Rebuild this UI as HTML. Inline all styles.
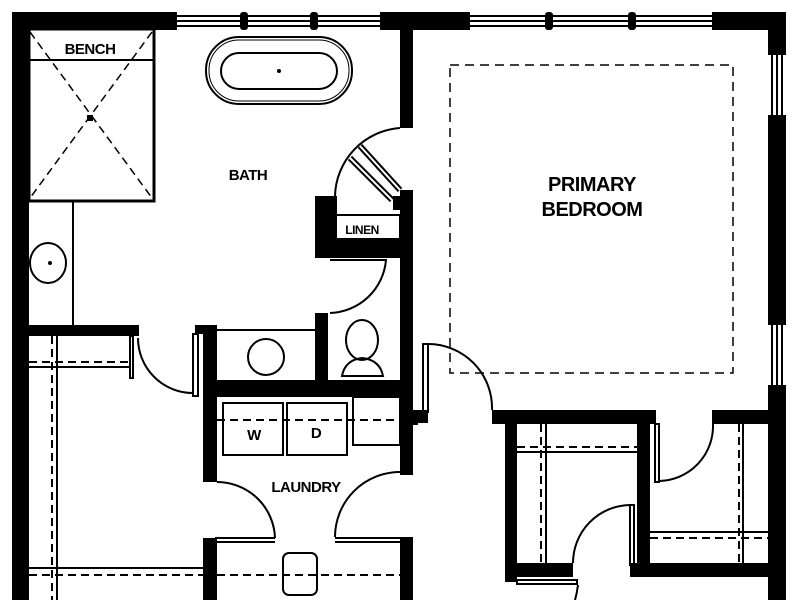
<!DOCTYPE html>
<html><head><meta charset="utf-8"><style>
html,body{margin:0;padding:0;background:#fff;}
svg{display:block;}
text{font-family:"Liberation Sans",sans-serif;fill:#000;font-weight:bold;letter-spacing:-0.5px;}
</style></head><body>
<svg width="800" height="600" viewBox="0 0 800 600" xmlns="http://www.w3.org/2000/svg">
<rect width="800" height="600" fill="#fff"/>
<g fill="#000">
<rect x="12" y="12" width="165" height="18"/>
<rect x="380" y="12" width="90" height="18"/>
<rect x="712" y="12" width="74" height="18"/>
<rect x="12" y="12" width="17" height="588"/>
<rect x="768" y="12" width="18" height="43"/>
<rect x="768" y="115" width="18" height="210"/>
<rect x="768" y="385" width="18" height="215"/>
<rect x="400" y="12" width="13" height="116"/>
<rect x="400" y="190" width="13" height="190"/>
<rect x="400" y="380" width="13" height="95"/>
<rect x="400" y="537" width="13" height="63"/>
<rect x="315" y="196" width="22" height="62"/>
<rect x="315" y="240" width="98" height="18"/>
<rect x="393" y="196" width="20" height="14"/>
<rect x="29" y="325" width="110" height="11"/>
<rect x="195" y="325" width="22" height="9"/>
<rect x="203" y="325" width="14" height="157"/>
<rect x="315" y="313" width="13" height="70"/>
<rect x="203" y="380" width="210" height="17"/>
<rect x="410" y="410" width="8" height="15"/>
<rect x="203" y="538" width="14" height="62"/>
<rect x="412" y="410" width="16" height="13"/>
<rect x="492" y="410" width="164" height="14"/>
<rect x="505" y="410" width="12" height="172"/>
<rect x="637" y="410" width="13" height="160"/>
<rect x="505" y="563" width="68" height="14"/>
<rect x="630" y="563" width="140" height="14"/>
<rect x="712" y="410" width="58" height="14"/>
</g>
<g fill="none" stroke="#000" stroke-width="2">
<line x1="177" y1="16" x2="380" y2="16"/><line x1="177" y1="21" x2="380" y2="21"/><line x1="177" y1="26" x2="380" y2="26"/>
<line x1="470" y1="16" x2="712" y2="16"/><line x1="470" y1="21" x2="712" y2="21"/><line x1="470" y1="26" x2="712" y2="26"/>
<line x1="772" y1="55" x2="772" y2="115"/><line x1="777" y1="55" x2="777" y2="115"/><line x1="782" y1="55" x2="782" y2="115"/>
<line x1="772" y1="325" x2="772" y2="385"/><line x1="777" y1="325" x2="777" y2="385"/><line x1="782" y1="325" x2="782" y2="385"/>
</g>
<g fill="#000">
<rect x="240" y="12" width="8" height="18" rx="3"/><rect x="310" y="12" width="8" height="18" rx="3"/>
<rect x="545" y="12" width="8" height="18" rx="3"/><rect x="628" y="12" width="8" height="18" rx="3"/>
</g>
<g fill="none" stroke="#000" stroke-width="2">
<rect x="29" y="29" width="125" height="172" stroke-width="3"/>
<line x1="29" y1="60" x2="154" y2="60"/>
<line x1="73" y1="201" x2="73" y2="325"/>
<g stroke-dasharray="8,5" stroke-width="1.5"><line x1="30" y1="32" x2="152" y2="198"/><line x1="152" y1="32" x2="30" y2="198"/></g>
<rect x="206" y="37" width="146" height="67" rx="33"/>
<rect x="209" y="40" width="140" height="61" rx="30" stroke-width="1"/>
<rect x="221" y="53" width="116" height="36" rx="18"/>
<ellipse cx="48" cy="263" rx="18" ry="20"/>
<path d="M335 196 A70 70 0 0 1 400 128"/>
<line x1="360" y1="146" x2="400" y2="190" stroke-width="6"/>
<line x1="350" y1="158" x2="392" y2="200" stroke-width="6"/>
<line x1="360" y1="146" x2="400" y2="190" stroke="#fff" stroke-width="2"/>
<line x1="350" y1="158" x2="392" y2="200" stroke="#fff" stroke-width="2"/>
<rect x="328" y="215" width="72" height="24"/>
<path d="M330 260 L386 260 A58 58 0 0 1 330 313"/>
<path d="M138 338 A55 55 0 0 0 193 393"/>
<rect x="193" y="334" width="5" height="62"/>
<rect x="130" y="336" width="3" height="42"/>
<line x1="217" y1="330" x2="315" y2="330"/>
<circle cx="266" cy="357" r="18"/>
<ellipse cx="362" cy="340" rx="16" ry="20"/>
<path d="M342 376 Q345 360 362 358 Q380 360 383 376 Z"/>
<line x1="57" y1="336" x2="57" y2="600"/>
<line x1="52" y1="336" x2="52" y2="600" stroke-dasharray="8,5"/>
<line x1="29" y1="362" x2="130" y2="362" stroke-dasharray="8,5"/>
<line x1="29" y1="367" x2="130" y2="367"/>
<line x1="29" y1="568" x2="203" y2="568"/>
<line x1="29" y1="575" x2="203" y2="575" stroke-dasharray="8,5"/>
<rect x="223" y="403" width="60" height="52"/>
<rect x="287" y="403" width="60" height="52"/>
<rect x="353" y="397" width="47" height="48"/>
<line x1="217" y1="420" x2="400" y2="420" stroke-dasharray="8,5"/>
<path d="M217 482 A58 58 0 0 1 275 538"/>
<path d="M400 472 A65 65 0 0 0 335 537"/>
<line x1="215" y1="538" x2="275" y2="538"/><line x1="215" y1="542" x2="275" y2="542"/>
<line x1="335" y1="538" x2="403" y2="538"/><line x1="335" y1="542" x2="403" y2="542"/>
<line x1="217" y1="575" x2="400" y2="575" stroke-dasharray="8,5"/>
<rect x="283" y="553" width="34" height="42" rx="6"/>
<rect x="450" y="65" width="283" height="308" stroke-dasharray="9,6" stroke-width="1.5"/>
<rect x="423" y="344" width="5" height="68"/>
<path d="M428 344 A64 64 0 0 1 492 410"/>
<line x1="517" y1="447" x2="637" y2="447" stroke-dasharray="8,5"/>
<line x1="517" y1="452" x2="637" y2="452"/>
<line x1="541" y1="424" x2="541" y2="563" stroke-dasharray="8,5"/>
<line x1="546" y1="424" x2="546" y2="563"/>
<rect x="655" y="424" width="4" height="58"/>
<path d="M659 481 A55 55 0 0 0 713 424"/>
<line x1="650" y1="532" x2="768" y2="532"/>
<line x1="650" y1="538" x2="768" y2="538" stroke-dasharray="8,5"/>
<line x1="743" y1="424" x2="743" y2="563"/>
<line x1="739" y1="424" x2="739" y2="563" stroke-dasharray="8,5"/>
<rect x="630" y="505" width="4" height="60"/>
<path d="M630 505 A58 58 0 0 0 573 563"/>
<rect x="517" y="580" width="60" height="4"/>
<path d="M578 585 Q577 593 575 600"/>
</g>
<g fill="#000">
<circle cx="279" cy="71" r="2"/>
<rect x="87" y="115" width="6" height="6"/>
<circle cx="50" cy="263" r="2"/>
</g>
<g text-anchor="middle">
<text x="90" y="54" font-size="15">BENCH</text>
<text x="248" y="180" font-size="15">BATH</text>
<text x="362" y="234" font-size="12">LINEN</text>
<text x="592" y="191" font-size="20">PRIMARY</text>
<text x="592" y="216" font-size="20">BEDROOM</text>
<text x="306" y="492" font-size="15">LAUNDRY</text>
<text x="254" y="440" font-size="15">W</text>
<text x="316" y="438" font-size="15">D</text>
</g>
</svg>
</body></html>
